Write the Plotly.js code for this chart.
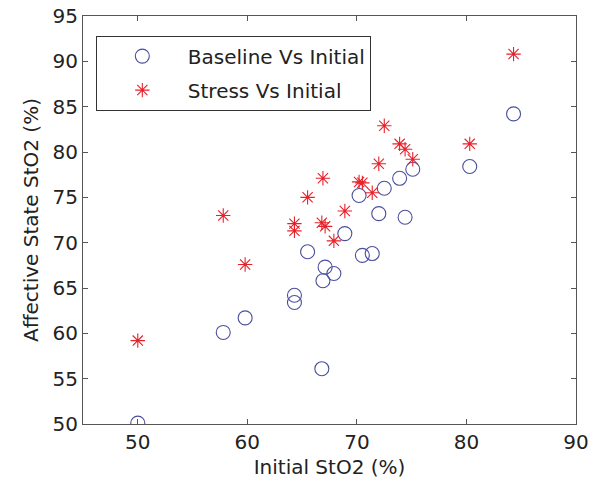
<!DOCTYPE html>
<html><head><meta charset="utf-8">
<script src="https://cdn.plot.ly/plotly-3.0.1.min.js"></script>
<style>html,body{margin:0;padding:0;background:#fff}</style>
</head><body>
<div id="chart" style="width:602px;height:488px"></div>
<script>
const initialStO2 = [50.0, 57.8, 59.8, 64.3, 64.3, 65.5, 66.8, 66.9, 67.1, 67.9, 68.9, 70.2, 70.5, 71.4, 72.0, 72.5, 73.9, 74.4, 75.1, 80.3, 84.3];
const baselineStO2 = [50.1, 60.1, 61.7, 64.2, 63.4, 69.0, 56.1, 65.8, 67.3, 66.6, 71.0, 75.2, 68.6, 68.8, 73.2, 76.0, 77.1, 72.8, 78.1, 78.4, 84.2];
const stressStO2 = [59.2, 73.0, 67.6, 72.1, 71.3, 75.0, 72.2, 77.1, 71.8, 70.2, 73.5, 76.7, 76.6, 75.5, 78.7, 82.9, 80.9, 80.3, 79.2, 80.9, 90.8];
const seriesNames = ["Baseline Vs Initial", "Stress Vs Initial"];
const xTicks = [50, 60, 70, 80, 90];
const yTicks = [50, 55, 60, 65, 70, 75, 80, 85, 90, 95];

const font = {family: "DejaVu Sans, sans-serif", size: 20, color: "#222"};
const traces = [
  {x: initialStO2, y: baselineStO2, name: seriesNames[0], legendgroup: "a", type: "scatter", mode: "markers",
   marker: {symbol: "circle-open", size: 14, color: "#4a4f9c", line: {width: 1.1}}},
  {x: initialStO2, y: stressStO2, name: seriesNames[1], legendgroup: "b", type: "scatter", mode: "markers",
   marker: {symbol: "asterisk-open", size: 12, color: "#e8202a", line: {width: 1.1, color: "#e8202a"}}}
];
const axisCommon = {showline: true, linecolor: "#555", linewidth: 1, mirror: "ticks", ticks: "inside",
  ticklen: 5, tickcolor: "#555", showgrid: false, zeroline: false, tickfont: font};
const layout = {
  width: 602, height: 488,
  margin: {l: 83, r: 26, t: 16, b: 64},
  paper_bgcolor: "#fff", plot_bgcolor: "#fff",
  font: font,
  showlegend: true,
  legend: {x: 0.026, y: 0.952, xanchor: "left", yanchor: "top", bordercolor: "#333", borderwidth: 1,
    bgcolor: "#fff", font: font, itemwidth: 81, traceorder: "grouped", tracegroupgap: 5},
  xaxis: Object.assign({}, axisCommon, {range: [45, 90], tickvals: xTicks, ticktext: xTicks.map(String),
    title: {text: "Initial StO2 (%)", font: font, standoff: 6}}),
  yaxis: Object.assign({}, axisCommon, {range: [50, 95], tickvals: yTicks, ticktext: yTicks.map(String),
    title: {text: "Affective State StO2 (%)", font: font, standoff: 8}})
};
Plotly.newPlot("chart", traces, layout, {displayModeBar: false, staticPlot: true});
</script>
</body></html>
